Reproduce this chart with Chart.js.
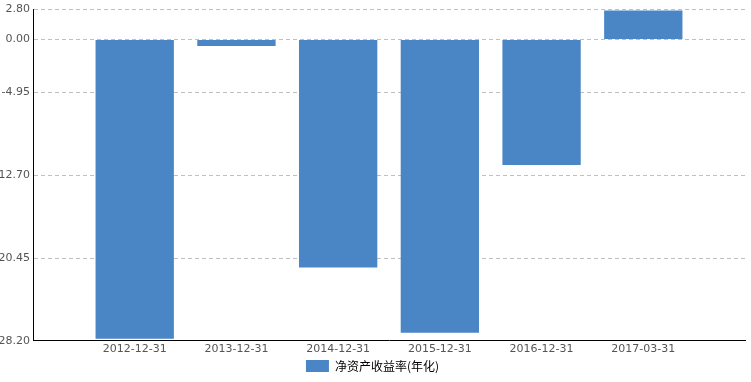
<!DOCTYPE html>
<html>
<head>
<meta charset="utf-8">
<script src="https://cdn.jsdelivr.net/npm/chart.js@4/dist/chart.umd.min.js"></script>
<style>
html,body{margin:0;padding:0;background:#fff;}
#wrap{width:751px;height:382px;}
</style>
</head>
<body>
<div id="wrap"><canvas id="c" width="751" height="382"></canvas></div>
<script>
const categories = ['2012-12-31','2013-12-31','2014-12-31','2015-12-31','2016-12-31','2017-03-31'];
const seriesName = '净资产收益率(年化)';
const roeValues = [-28.0, -0.6, -21.35, -27.45, -11.75, 2.72];
const tickValues = [2.80, 0.00, -4.95, -12.70, -20.45, -28.20];
const tickLabels = ['2.80', '0.00', '-4.95', '12.70', '20.45', '28.20'];

// pad one empty slot on each side so the bars sit like the reference
const labels = [''].concat(categories, ['']);
const data = [null].concat(roeValues, [null]);

const font = {family: '"DejaVu Sans", Verdana, sans-serif', size: 11};

new Chart(document.getElementById('c'), {
  type: 'bar',
  data: {
    labels: labels,
    datasets: [{
      label: seriesName,
      data: data,
      backgroundColor: '#4A86C6',
      borderWidth: 0,
      barPercentage: 0.77,
      categoryPercentage: 1.0
    }]
  },
  options: {
    responsive: false,
    animation: false,
    layout: {padding: {top: 4, right: 6, left: 0, bottom: 0}},
    plugins: {
      tooltip: {enabled: false},
      legend: {
        position: 'bottom',
        labels: {
          boxWidth: 23,
          boxHeight: 12,
          padding: 2,
          color: '#000',
          font: {family: '"Noto Sans CJK SC", sans-serif', size: 12}
        }
      }
    },
    scales: {
      x: {
        offset: false,
        grid: {display: true, color: 'rgba(0,0,0,0)', drawTicks: false},
        border: {display: true, color: '#000', width: 1},
        ticks: {autoSkip: false, maxRotation: 0, color: '#555', font: font, padding: 2}
      },
      y: {
        min: -28.2,
        max: 2.8,
        afterBuildTicks: (scale) => { scale.ticks = tickValues.map(v => ({value: v})); },
        afterFit: (scale) => { scale.width = 33; },
        grid: {
          drawTicks: false,
          color: (ctx) => (ctx.tick && ctx.tick.value === -28.2) ? 'rgba(0,0,0,0)' : '#c0c0c0'
        },
        border: {display: true, color: '#000', width: 1, dash: [4, 3]},
        ticks: {
          color: '#555',
          font: font,
          padding: 3,
          callback: (v, i) => tickLabels[i]
        }
      }
    }
  }
});
</script>
</body>
</html>
